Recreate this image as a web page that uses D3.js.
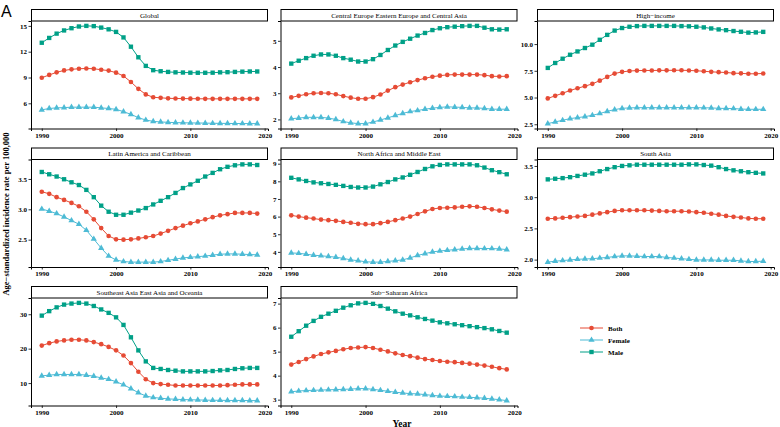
<!DOCTYPE html>
<html><head><meta charset="utf-8">
<script src="https://cdn.jsdelivr.net/npm/d3@7"></script>
<style>body{margin:0;background:#fff}svg{display:block}</style>
</head><body>
<svg id="chart" width="780" height="427"></svg>
<script>
const years = d3.range(1990, 2020);
const xTicks = [1990, 2000, 2010, 2020];
const sexes = ["Both", "Female", "Male"];
const colors = {Both: "#E64B35", Female: "#4DBBD5", Male: "#00A087"};

const globalBoth   = [8.97,9.30,9.60,9.82,9.95,10.02,10.05,10.02,9.90,9.80,9.56,9.18,8.48,7.68,7.03,6.70,6.64,6.58,6.56,6.55,6.54,6.53,6.52,6.52,6.52,6.52,6.52,6.52,6.52,6.52];
const globalFemale = [5.24,5.40,5.47,5.50,5.55,5.55,5.55,5.55,5.47,5.40,5.30,5.03,4.72,4.33,4.06,3.90,3.83,3.79,3.75,3.74,3.72,3.71,3.70,3.68,3.67,3.66,3.65,3.65,3.64,3.64];
const globalMale   = [13.04,13.60,14.10,14.47,14.73,14.93,15.00,14.97,14.80,14.60,14.30,13.66,12.58,11.35,10.35,9.85,9.73,9.65,9.60,9.58,9.56,9.55,9.55,9.56,9.60,9.62,9.65,9.68,9.70,9.70];

const ceBoth   = [2.84,2.90,2.96,3.00,3.01,3.00,2.96,2.89,2.83,2.79,2.79,2.85,2.95,3.10,3.23,3.33,3.42,3.50,3.57,3.63,3.67,3.70,3.71,3.71,3.71,3.71,3.69,3.65,3.64,3.65];
const ceFemale = [2.03,2.05,2.08,2.08,2.08,2.05,2.00,1.92,1.87,1.84,1.84,1.90,1.98,2.06,2.15,2.23,2.30,2.34,2.39,2.43,2.46,2.48,2.47,2.46,2.44,2.44,2.42,2.39,2.39,2.39];
const ceMale   = [4.13,4.24,4.34,4.43,4.48,4.48,4.43,4.34,4.28,4.21,4.21,4.30,4.46,4.65,4.82,4.96,5.08,5.20,5.30,5.41,5.48,5.52,5.54,5.56,5.57,5.57,5.50,5.44,5.43,5.44];

const hiBoth   = [4.92,5.16,5.40,5.66,5.87,6.06,6.28,6.58,6.93,7.24,7.40,7.48,7.52,7.53,7.53,7.54,7.54,7.55,7.55,7.53,7.50,7.46,7.40,7.37,7.34,7.28,7.26,7.22,7.22,7.25];
const hiFemale = [2.56,2.72,2.87,3.03,3.12,3.21,3.34,3.50,3.71,3.87,3.99,4.03,4.05,4.05,4.05,4.05,4.05,4.06,4.06,4.05,4.05,4.04,4.03,3.99,3.98,3.97,3.92,3.90,3.90,3.90];
const hiMale   = [7.77,8.23,8.63,9.00,9.31,9.63,9.94,10.40,10.86,11.26,11.50,11.62,11.68,11.70,11.70,11.70,11.70,11.70,11.68,11.66,11.62,11.56,11.46,11.37,11.30,11.22,11.15,11.07,11.09,11.14];

const laBoth   = [3.29,3.255,3.20,3.155,3.105,3.05,2.96,2.835,2.69,2.56,2.505,2.50,2.505,2.52,2.54,2.56,2.60,2.645,2.69,2.73,2.77,2.80,2.835,2.87,2.90,2.92,2.94,2.94,2.94,2.93];
const laFemale = [3.005,2.97,2.93,2.875,2.815,2.755,2.655,2.51,2.36,2.23,2.165,2.14,2.13,2.13,2.13,2.13,2.14,2.16,2.18,2.20,2.21,2.22,2.23,2.245,2.26,2.265,2.265,2.26,2.255,2.25];
const laMale   = [3.615,3.577,3.54,3.495,3.445,3.40,3.32,3.20,3.06,2.96,2.91,2.91,2.945,2.98,3.02,3.08,3.14,3.20,3.27,3.35,3.41,3.47,3.54,3.60,3.66,3.70,3.725,3.74,3.74,3.73];

const nameBoth   = [6.07,6.00,5.94,5.89,5.83,5.80,5.76,5.70,5.65,5.59,5.57,5.57,5.63,5.70,5.80,5.89,6.00,6.15,6.30,6.43,6.49,6.50,6.52,6.56,6.58,6.56,6.49,6.41,6.34,6.28];
const nameFemale = [3.94,3.92,3.87,3.81,3.78,3.74,3.70,3.63,3.55,3.50,3.44,3.42,3.42,3.46,3.50,3.55,3.66,3.80,3.90,4.00,4.05,4.09,4.13,4.17,4.20,4.20,4.19,4.19,4.17,4.13];
const nameMale   = [8.20,8.11,8.02,7.94,7.89,7.85,7.80,7.74,7.68,7.65,7.65,7.70,7.83,7.96,8.11,8.22,8.37,8.53,8.70,8.85,8.93,8.96,8.96,8.96,8.96,8.91,8.78,8.63,8.52,8.40];

const saBoth   = [2.655,2.66,2.67,2.68,2.69,2.70,2.72,2.74,2.76,2.78,2.79,2.79,2.79,2.79,2.785,2.78,2.775,2.775,2.775,2.77,2.76,2.75,2.735,2.72,2.70,2.685,2.675,2.66,2.655,2.655];
const saFemale = [1.96,1.975,1.985,1.995,2.005,2.01,2.015,2.025,2.035,2.05,2.06,2.06,2.055,2.05,2.05,2.05,2.035,2.025,2.015,2.005,1.995,1.995,1.995,1.99,1.99,1.99,1.98,1.97,1.97,1.975];
const saMale   = [3.285,3.295,3.305,3.32,3.34,3.36,3.38,3.415,3.45,3.48,3.50,3.51,3.52,3.52,3.52,3.52,3.52,3.52,3.52,3.525,3.525,3.515,3.505,3.48,3.45,3.43,3.415,3.40,3.39,3.38];

const seaBoth   = [20.9,21.6,22.1,22.4,22.6,22.6,22.4,21.9,21.3,20.5,19.5,18.0,15.8,13.3,11.1,10.0,9.7,9.5,9.3,9.3,9.3,9.3,9.3,9.3,9.3,9.4,9.5,9.6,9.6,9.6];
const seaFemale = [12.1,12.3,12.5,12.5,12.5,12.5,12.3,12.0,11.5,11.1,10.4,9.5,8.4,7.2,6.25,5.8,5.6,5.4,5.3,5.2,5.15,5.1,5.05,5.0,5.0,4.95,4.95,4.95,4.9,4.9];
const seaMale   = [29.6,30.9,32.0,32.8,33.1,33.3,33.1,32.4,31.4,30.4,29.1,26.9,23.3,19.5,16.3,14.4,14.1,13.8,13.6,13.4,13.4,13.4,13.4,13.5,13.7,13.8,14.1,14.3,14.4,14.4];

const ssaBoth   = [4.46,4.57,4.69,4.80,4.90,4.97,5.03,5.10,5.15,5.17,5.19,5.15,5.08,5.01,4.93,4.86,4.81,4.75,4.69,4.65,4.61,4.58,4.56,4.53,4.50,4.46,4.42,4.37,4.31,4.26];
const ssaFemale = [3.33,3.36,3.38,3.39,3.40,3.41,3.42,3.43,3.44,3.46,3.46,3.43,3.39,3.35,3.31,3.28,3.25,3.24,3.21,3.18,3.15,3.14,3.13,3.11,3.10,3.08,3.06,3.03,3.00,2.96];
const ssaMale   = [5.62,5.85,6.08,6.28,6.45,6.58,6.70,6.83,6.93,7.01,7.03,6.99,6.90,6.79,6.68,6.58,6.51,6.43,6.36,6.29,6.22,6.18,6.14,6.10,6.06,6.02,5.98,5.93,5.86,5.79];

const regionNames = ["Global", "Central Europe Eastern Europe and Central Asia", "High\u2212income",
  "Latin America and Caribbean", "North Africa and Middle East", "South Asia",
  "Southeast Asia East Asia and Oceania", "Sub\u2212Saharan Africa"];
const regionSeries = [
  [globalBoth, globalFemale, globalMale],
  [ceBoth, ceFemale, ceMale],
  [hiBoth, hiFemale, hiMale],
  [laBoth, laFemale, laMale],
  [nameBoth, nameFemale, nameMale],
  [saBoth, saFemale, saMale],
  [seaBoth, seaFemale, seaMale],
  [ssaBoth, ssaFemale, ssaMale]
];
const yTickValues = [[6,9,12,15],[2,3,4,5],[2.5,5,7.5,10],[2.5,3,3.5],[4,5,6,7,8,9],[2,2.5,3,3.5],[10,20,30],[3,4,5,6,7]];
const yTickLabels = [["6","9","12","15"],["2","3","4","5"],["2.5","5.0","7.5","10.0"],["2.5","3.0","3.5"],["4","5","6","7","8","9"],["2.0","2.5","3.0","3.5"],["10","20","30"],["3","4","5","6","7"]];

// layout
const colX = [31, 280.5, 537];
const panelW = 237;
const rowY = [9.5, 148, 286.5];
const stripH = 11.5;
const panelH = 107.5;
const serif = "'Liberation Serif','Times New Roman',serif";

const svg = d3.select("#chart");
const symbolOf = {Both: d3.symbolCircle, Female: d3.symbolTriangle, Male: d3.symbolSquare};
const symSize = {Both: 17, Female: 17, Male: 19};

const x = d3.scaleLinear().domain([1990 - 1.45, 2019 + 1.45]).range([0, panelW]);

regionNames.forEach((name, i) => {
  const r = Math.floor(i / 3), c = i % 3;
  const g = svg.append("g").attr("transform", `translate(${colX[c]},${rowY[r]})`);
  // strip
  g.append("rect").attr("x", 0.5).attr("y", 0).attr("width", panelW - 1).attr("height", stripH)
    .attr("fill", "#fff").attr("stroke", "#000").attr("stroke-width", 1);
  g.append("text").attr("x", panelW / 2).attr("y", stripH / 2 + 2.5).attr("text-anchor", "middle")
    .attr("font-family", serif).attr("font-size", 7).text(name);

  const pg = g.append("g").attr("transform", `translate(0,${stripH})`);
  const series = regionSeries[i];
  const all = series.flat();
  const mn = d3.min(all), mx = d3.max(all), pad = (mx - mn) * 0.05;
  const y = d3.scaleLinear().domain([mn - pad, mx + pad]).range([panelH, 0]);

  const xa = pg.append("g").attr("transform", `translate(0,${panelH})`)
    .call(d3.axisBottom(x).tickValues(xTicks).tickFormat(d3.format("d")).tickSizeOuter(0).tickSize(2.5).tickPadding(2));
  const ya = pg.append("g")
    .call(d3.axisLeft(y).tickValues(yTickValues[i]).tickFormat((d, k) => yTickLabels[i][k]).tickSizeOuter(0).tickSize(2.5).tickPadding(1.5));
  [xa, ya].forEach(a => {
    a.selectAll("path").attr("stroke", "#000").attr("stroke-width", 1);
    a.selectAll("line").attr("stroke", "#000").attr("stroke-width", 0.8);
    a.selectAll("text").attr("font-family", serif).attr("font-weight", "bold").attr("font-size", 7).attr("fill", "#000");
  });

  sexes.forEach((s, k) => {
    const vals = series[k];
    const pts = years.map((yr, j) => [yr, vals[j]]);
    pg.append("path").datum(pts)
      .attr("fill", "none").attr("stroke", colors[s]).attr("stroke-width", 1)
      .attr("d", d3.line().x(d => x(d[0])).y(d => y(d[1])));
    pg.selectAll(null).data(pts).enter().append("path")
      .attr("transform", d => `translate(${x(d[0])},${y(d[1])})`)
      .attr("d", d3.symbol().type(symbolOf[s]).size(symSize[s]))
      .attr("fill", colors[s]);
  });
});

// legend
const legY = [328, 340, 352];
sexes.forEach((s, k) => {
  const lg = svg.append("g").attr("transform", `translate(580,${legY[k]})`);
  lg.append("line").attr("x1", 0).attr("x2", 23).attr("y1", 0).attr("y2", 0)
    .attr("stroke", colors[s]).attr("stroke-width", 1);
  lg.append("path").attr("transform", "translate(11.5,0)")
    .attr("d", d3.symbol().type(symbolOf[s]).size(symSize[s])).attr("fill", colors[s]);
  lg.append("text").attr("x", 28).attr("y", 2.5).attr("font-family", serif)
    .attr("font-weight", "bold").attr("font-size", 7).text(s);
});

// axis titles
svg.append("text").attr("transform", "translate(8.5,214) rotate(-90)").attr("text-anchor", "middle")
  .attr("font-family", serif).attr("font-weight", "bold").attr("font-size", 8.5)
  .text("Age\u2212standardized incidence rate per 100,000");
svg.append("text").attr("x", 402).attr("y", 426.5).attr("text-anchor", "middle")
  .attr("font-family", serif).attr("font-weight", "bold").attr("font-size", 9.5).text("Year");
svg.append("text").attr("x", 1).attr("y", 17).attr("font-family", "'Liberation Sans',Arial,sans-serif")
  .attr("font-size", 16).text("A");
</script>
</body></html>
